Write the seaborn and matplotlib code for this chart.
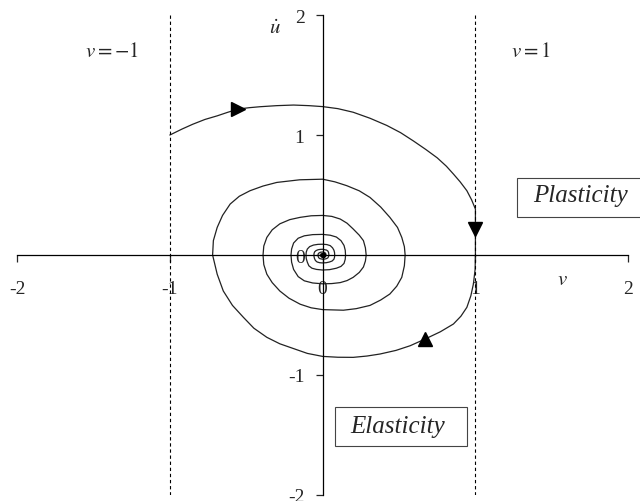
import matplotlib
matplotlib.use("Agg")
import matplotlib.pyplot as plt
import matplotlib.patches as mpatches
import numpy as np
import pandas as pd
import seaborn as sns

# Elastic loading arc, starting on the v = -1 boundary: (v, u)
loading_arc = [(-1.0, 1.0), (-0.96, 1.025), (-0.92, 1.05), (-0.85, 1.09), (-0.77, 1.13),
               (-0.69, 1.16), (-0.62, 1.19), (-0.55, 1.217), (-0.48, 1.228), (-0.41, 1.236),
               (-0.30, 1.245), (-0.19, 1.25), (-0.09, 1.245), (0.0, 1.237), (0.1, 1.22),
               (0.2, 1.19), (0.31, 1.14), (0.42, 1.08), (0.51, 1.02), (0.595, 0.95),
               (0.675, 0.88), (0.75, 0.81), (0.81, 0.74), (0.856, 0.675), (0.9, 0.61),
               (0.944, 0.536), (0.975, 0.46), (1.0, 0.383)]

# Plastic flow along v = 1
plastic_flow = [(1.0, 0.383), (1.0, 0.0)]

# Free elastic oscillation spiralling into the origin
swing_1 = [(1.0, 0.0), (0.998, -0.12), (0.987, -0.24), (0.97, -0.34), (0.944, -0.436),
           (0.905, -0.51), (0.856, -0.575), (0.77, -0.64), (0.671, -0.70), (0.573, -0.756),
           (0.48, -0.795), (0.376, -0.825), (0.29, -0.842), (0.2, -0.853), (0.1, -0.852),
           (0.0, -0.845), (-0.10, -0.82), (-0.19, -0.78), (-0.28, -0.74), (-0.365, -0.686),
           (-0.45, -0.61), (-0.518, -0.52), (-0.59, -0.42), (-0.65, -0.30), (-0.69, -0.16),
           (-0.72, 0.0), (-0.715, 0.12), (-0.69, 0.23), (-0.655, 0.33), (-0.605, 0.425),
           (-0.545, 0.49), (-0.475, 0.536), (-0.39, 0.575), (-0.30, 0.605), (-0.15, 0.627),
           (0.0, 0.632)]
swing_2 = [(0.08, 0.61), (0.158, 0.578), (0.24, 0.535), (0.31, 0.48), (0.38, 0.40),
           (0.44, 0.314), (0.49, 0.23), (0.518, 0.147), (0.535, 0.07), (0.54, 0.0),
           (0.535, -0.09), (0.518, -0.186), (0.485, -0.26), (0.44, -0.325), (0.38, -0.375),
           (0.31, -0.42), (0.22, -0.447), (0.136, -0.46), (0.0, -0.455), (-0.075, -0.44),
           (-0.147, -0.41), (-0.22, -0.36), (-0.28, -0.30), (-0.33, -0.23), (-0.365, -0.16),
           (-0.385, -0.08), (-0.39, 0.0), (-0.385, 0.075), (-0.365, 0.147), (-0.33, 0.21),
           (-0.28, 0.26), (-0.215, 0.295), (-0.147, 0.314), (-0.075, 0.327), (0.0, 0.33)]
swing_3 = [(0.06, 0.322), (0.115, 0.30), (0.16, 0.265), (0.2, 0.217), (0.24, 0.165),
           (0.267, 0.12), (0.28, 0.06), (0.285, 0.0), (0.28, -0.05), (0.267, -0.10),
           (0.24, -0.145), (0.2, -0.186), (0.16, -0.213), (0.115, -0.23), (0.06, -0.238),
           (0.0, -0.24), (-0.065, -0.233), (-0.12, -0.215), (-0.16, -0.18), (-0.19, -0.12),
           (-0.203, -0.06), (-0.207, 0.0), (-0.203, 0.05), (-0.19, 0.10), (-0.16, 0.14),
           (-0.12, 0.16), (-0.065, 0.17), (0.0, 0.172)]
swing_4 = [(0.05, 0.165), (0.09, 0.15), (0.12, 0.12), (0.14, 0.08), (0.148, 0.04),
           (0.15, 0.0), (0.148, -0.035), (0.14, -0.07), (0.12, -0.095), (0.09, -0.11),
           (0.045, -0.122), (0.0, -0.125), (-0.04, -0.12), (-0.07, -0.11), (-0.09, -0.09),
           (-0.10, -0.06), (-0.107, -0.03), (-0.109, 0.0), (-0.107, 0.025), (-0.10, 0.05),
           (-0.085, 0.07), (-0.06, 0.083), (-0.03, 0.089), (0.0, 0.09)]
swing_inner = [(0.028, 0.087), (0.05, 0.078), (0.065, 0.06), (0.074, 0.04), (0.078, 0.02),
               (0.079, 0.0), (0.078, -0.018), (0.074, -0.035), (0.062, -0.05), (0.045, -0.058),
               (0.024, -0.064), (0.0, -0.066), (-0.02, -0.064), (-0.036, -0.058), (-0.047, -0.046),
               (-0.053, -0.03), (-0.056, -0.015), (-0.057, 0.0), (-0.056, 0.014), (-0.052, 0.027),
               (-0.043, 0.037), (-0.03, 0.044), (-0.015, 0.047), (0.0, 0.048), (0.026, 0.041),
               (0.035, 0.032), (0.039, 0.02), (0.041, 0.0), (0.039, -0.012), (0.034, -0.024),
               (0.023, -0.031), (0.012, -0.034), (0.0, -0.035), (-0.019, -0.03), (-0.026, -0.022),
               (-0.029, -0.012), (-0.030, 0.0), (-0.029, 0.008), (-0.027, 0.014), (-0.015, 0.023),
               (0.0, 0.025), (0.014, 0.021), (0.021, 0.01), (0.022, 0.0), (0.02, -0.01),
               (0.01, -0.016), (0.0, -0.018), (-0.01, -0.015), (-0.015, 0.0), (-0.01, 0.01),
               (0.0, 0.012), (0.01, 0.0), (0.0, 0.0)]

# Direction markers along the trajectory
arrow_v = [-0.551, 1.0, 0.671]
arrow_u = [1.217, 0.217, -0.70]
arrow_m = [">", "v", "^"]

ticks = [-2, -1, 0, 1, 2]
bounds = [-1, 1]

sns.set_style("white")
plt.rcParams["font.family"] = ["Liberation Serif", "DejaVu Serif"]
plt.rcParams["mathtext.fontset"] = "stix"
plt.rcParams["axes.unicode_minus"] = False

fig = plt.figure(figsize=(6.4, 5.02), dpi=100)
ax = fig.add_axes([0.0266, 0.012, 0.955, 0.956])

points = (loading_arc + plastic_flow + swing_1 + swing_2 + swing_3
          + swing_4 + swing_inner)
path = pd.DataFrame(points, columns=["v", "u"])
sns.lineplot(data=path, x="v", y="u", sort=False, estimator=None,
             color="#222222", linewidth=0.9, ax=ax)

for v, u, m in zip(arrow_v, arrow_u, arrow_m):
    ax.plot(v, u, marker=m, color="black", markersize=10, linestyle="none")
ax.plot(0, 0, marker="o", color="black", markersize=3)

for b in bounds:
    ax.axvline(b, ymin=0, ymax=1, color="black", linestyle=(0, (3, 2.5)),
               linewidth=0.8)

ax.set_xlim(-2, 2)
ax.set_ylim(-2, 2)
ax.set_xticks(ticks)
ax.set_yticks(ticks)
ax.set_xticklabels([str(t) for t in ticks])
ax.set_yticklabels([str(t) for t in ticks])
ax.spines["left"].set_position(("data", 0))
ax.spines["bottom"].set_position(("data", 0))
ax.spines["top"].set_visible(False)
ax.spines["right"].set_visible(False)
for s in ("left", "bottom"):
    ax.spines[s].set_linewidth(0.9)
    ax.spines[s].set_color("black")
ax.tick_params(axis="x", direction="out", length=5, width=0.9, pad=13,
               labelsize=14, bottom=True)
ax.tick_params(axis="y", direction="out", length=5, width=0.9, pad=8,
               labelsize=14, left=True)
ax.set_xlabel("")
ax.set_ylabel("")
ax.patch.set_alpha(0)

ax.text(-1.38, 1.7, r"$v = -1$", fontsize=15, ha="center", va="center")
ax.text(1.36, 1.7, r"$v = 1$", fontsize=15, ha="center", va="center")
ax.text(-0.31, 1.89, r"$\dot{u}$", fontsize=15, ha="center", va="center")
ax.text(1.57, -0.2, r"$v$", fontsize=15, ha="center", va="center")

# Region labels in framed boxes
ax.add_patch(mpatches.Rectangle((1.273, 0.317), 0.85, 0.325, facecolor="white",
                                edgecolor="#444444", linewidth=0.8, clip_on=False,
                                zorder=3))
ax.text(1.686, 0.50, "Plasticity", fontsize=18, style="italic",
        ha="center", va="center", zorder=4)
ax.add_patch(mpatches.Rectangle((0.082, -1.592), 0.864, 0.325, facecolor="white",
                                edgecolor="#444444", linewidth=0.8, clip_on=False,
                                zorder=3))
ax.text(0.494, -1.425, "Elasticity", fontsize=18, style="italic",
        ha="center", va="center", zorder=4)

fig.savefig("out.png", dpi=100)
